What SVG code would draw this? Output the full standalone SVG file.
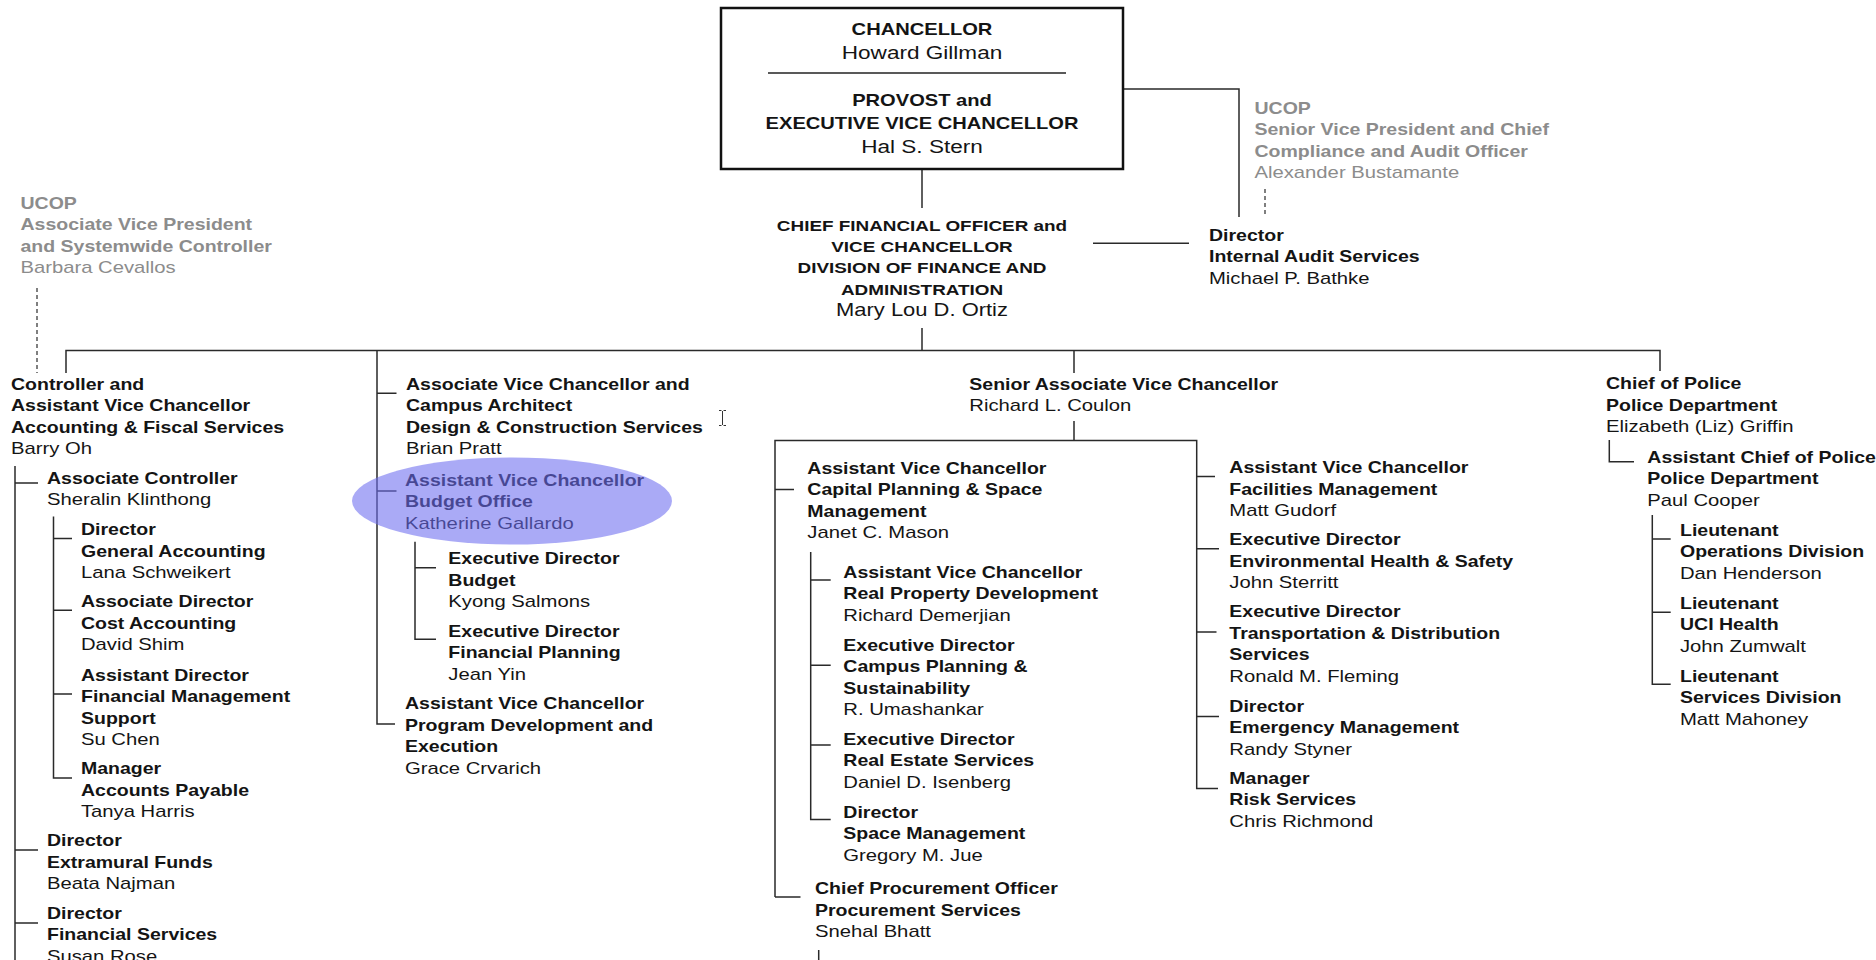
<svg xmlns="http://www.w3.org/2000/svg" width="1876" height="960" viewBox="0 0 1876 960">
<style>
.t{font-family:"Liberation Sans",Arial,sans-serif;fill:#141414}
.b{font-weight:700;font-size:16px}
.r{font-weight:400;font-size:16.6px}
.gy{fill:#8c8c8c}
.c{text-anchor:middle}
.ln{fill:none;stroke:#2a2a2a;stroke-width:1.5}
.ds{fill:none;stroke:#555;stroke-width:1.5;stroke-dasharray:4 3}
</style>
<rect width="1876" height="960" fill="#fff"/>

<g id="connectors">
  <path class="ln" d="M922,170 V208"/>
  <path class="ln" d="M1123,89 H1239 V217"/>
  <path class="ds" d="M1265,189 V217"/>
  <path class="ln" d="M1093,243.3 H1189"/>
  <path class="ln" d="M922,328 V350.5"/>
  <path class="ln" d="M66,373 V350.5 H1660 V371"/>
  <path class="ds" d="M37,288 V373"/>
  <path class="ln" d="M1074,350.5 V373"/>
  <!-- column 1 -->
  <path class="ln" d="M15,466 V960"/>
  <path class="ln" d="M15,483 H38 M15,850 H38 M15,923 H38"/>
  <path class="ln" d="M53.5,516.5 V778 H72 M53.5,538.5 H72 M53.5,610.3 H72 M53.5,694 H72"/>
  <!-- column 2 -->
  <path class="ln" d="M377,350.5 V724 H395 M377,393.3 H396.5 M377,491 H396.5"/>
  <path class="ln" d="M415,541.7 V639.3 H436 M415,567.7 H436"/>
  <!-- column 3 -->
  <path class="ln" d="M1074,421 V440.6 M775,897 V440.6 H1196.7 V788.5 H1218 M775,897 H800.5 M775,489.4 H794"/>
  <path class="ln" d="M1196.7,476.5 H1215 M1196.7,548.8 H1219 M1196.7,632 H1216.5 M1196.7,716.5 H1219"/>
  <path class="ln" d="M810.7,552 V819.5 H830.7 M810.7,580 H830.7 M810.7,665.2 H830.7 M810.7,745 H830.7"/>
  <path class="ln" d="M818.7,950 V960"/>
  <!-- column 4 -->
  <path class="ln" d="M1609.3,440 V461.7 H1634"/>
  <path class="ln" d="M1652.3,515 V684.3 H1670.7 M1652.3,539 H1670.7 M1652.3,612.3 H1670.7"/>
</g>

<g id="chancellor">
  <rect x="721" y="8" width="402" height="161" fill="none" stroke="#111" stroke-width="2.5"/>
  <path d="M768,73 H1066" stroke="#222" stroke-width="1.3"/>
  <g class="t c" transform="translate(922,0) scale(1.22,1)">
    <text class="b" y="35.5" style="font-size:16.5px">CHANCELLOR</text>
    <text class="r" y="59" style="font-size:18.5px">Howard Gillman</text>
    <text class="b" y="106" style="font-size:16.5px">PROVOST and</text>
    <text class="b" y="129.5" style="font-size:16.5px">EXECUTIVE VICE CHANCELLOR</text>
    <text class="r" y="153" style="font-size:18.5px">Hal S. Stern</text>
  </g>
</g>

<g id="ucop-left" class="t" transform="translate(20.5,0) scale(1.22,1)">
  <text class="b gy" y="209">UCOP</text>
  <text class="b gy" y="230.5">Associate Vice President</text>
  <text class="b gy" y="252">and Systemwide Controller</text>
  <text class="r gy" y="273.5">Barbara Cevallos</text>
</g>

<g id="ucop-right" class="t" transform="translate(1254.5,0) scale(1.22,1)">
  <text class="b gy" y="114">UCOP</text>
  <text class="b gy" y="135.5">Senior Vice President and Chief</text>
  <text class="b gy" y="157">Compliance and Audit Officer</text>
  <text class="r gy" y="178.5">Alexander Bustamante</text>
</g>

<g id="cfo" class="t c" transform="translate(922,0) scale(1.22,1)">
  <text class="b" y="231" style="font-size:15.5px">CHIEF FINANCIAL OFFICER and</text>
  <text class="b" y="252.5" style="font-size:15.5px">VICE CHANCELLOR</text>
  <text class="b" y="273.5" style="font-size:15.5px">DIVISION OF FINANCE AND</text>
  <text class="b" y="295" style="font-size:15.5px">ADMINISTRATION</text>
  <text class="r" y="316" style="font-size:18px">Mary Lou D. Ortiz</text>
</g>

<g id="director-audit" class="t" transform="translate(1209,0) scale(1.22,1)">
  <text class="b" y="241">Director</text>
  <text class="b" y="262.5">Internal Audit Services</text>
  <text class="r" y="284">Michael P. Bathke</text>
</g>

<g id="controller" class="t" transform="translate(11,0) scale(1.22,1)">
  <text class="b" y="390">Controller and</text>
  <text class="b" y="411.5">Assistant Vice Chancellor</text>
  <text class="b" y="433">Accounting &amp; Fiscal Services</text>
  <text class="r" y="454.5">Barry Oh</text>
</g>
<g id="assoc-controller" class="t" transform="translate(47,0) scale(1.22,1)">
  <text class="b" y="484">Associate Controller</text>
  <text class="r" y="505.5">Sheralin Klinthong</text>
</g>
<g id="dir-general-accounting" class="t" transform="translate(81,0) scale(1.22,1)">
  <text class="b" y="535.5">Director</text>
  <text class="b" y="557">General Accounting</text>
  <text class="r" y="578.5">Lana Schweikert</text>
</g>
<g id="assoc-dir-cost" class="t" transform="translate(81,0) scale(1.22,1)">
  <text class="b" y="607.5">Associate Director</text>
  <text class="b" y="629">Cost Accounting</text>
  <text class="r" y="650.5">David Shim</text>
</g>
<g id="asst-dir-fms" class="t" transform="translate(81,0) scale(1.22,1)">
  <text class="b" y="681">Assistant Director</text>
  <text class="b" y="702.5">Financial Management</text>
  <text class="b" y="724">Support</text>
  <text class="r" y="745.5">Su Chen</text>
</g>
<g id="mgr-ap" class="t" transform="translate(81,0) scale(1.22,1)">
  <text class="b" y="774.5">Manager</text>
  <text class="b" y="796">Accounts Payable</text>
  <text class="r" y="817.5">Tanya Harris</text>
</g>
<g id="dir-extramural" class="t" transform="translate(47,0) scale(1.22,1)">
  <text class="b" y="846.5">Director</text>
  <text class="b" y="868">Extramural Funds</text>
  <text class="r" y="889.5">Beata Najman</text>
</g>
<g id="dir-financial-services" class="t" transform="translate(47,0) scale(1.22,1)">
  <text class="b" y="919">Director</text>
  <text class="b" y="940.5">Financial Services</text>
  <text class="r" y="962">Susan Rose</text>
</g>

<g id="avc-design" class="t" transform="translate(406,0) scale(1.22,1)">
  <text class="b" y="390">Associate Vice Chancellor and</text>
  <text class="b" y="411.5">Campus Architect</text>
  <text class="b" y="433">Design &amp; Construction Services</text>
  <text class="r" y="454.5">Brian Pratt</text>
</g>
<g id="avc-budget" class="t" transform="translate(405,0) scale(1.22,1)">
  <text class="b" y="486">Assistant Vice Chancellor</text>
  <text class="b" y="507.5">Budget Office</text>
  <text class="r" y="529">Katherine Gallardo</text>
</g>
<g id="ed-budget" class="t" transform="translate(448.3,0) scale(1.22,1)">
  <text class="b" y="564.3">Executive Director</text>
  <text class="b" y="585.8">Budget</text>
  <text class="r" y="607.3">Kyong Salmons</text>
</g>
<g id="ed-financial-planning" class="t" transform="translate(448.3,0) scale(1.22,1)">
  <text class="b" y="636.7">Executive Director</text>
  <text class="b" y="658.2">Financial Planning</text>
  <text class="r" y="679.7">Jean Yin</text>
</g>
<g id="avc-program" class="t" transform="translate(405,0) scale(1.22,1)">
  <text class="b" y="709.3">Assistant Vice Chancellor</text>
  <text class="b" y="730.8">Program Development and</text>
  <text class="b" y="752.3">Execution</text>
  <text class="r" y="773.8">Grace Crvarich</text>
</g>
<ellipse id="highlight" cx="512" cy="501" rx="160" ry="43.5" fill="#6c6cf0" fill-opacity="0.58"/>

<g id="sr-avc" class="t" transform="translate(969.3,0) scale(1.22,1)">
  <text class="b" y="390">Senior Associate Vice Chancellor</text>
  <text class="r" y="411.5">Richard L. Coulon</text>
</g>
<g id="avc-capital-planning" class="t" transform="translate(807.3,0) scale(1.22,1)">
  <text class="b" y="474">Assistant Vice Chancellor</text>
  <text class="b" y="495.5">Capital Planning &amp; Space</text>
  <text class="b" y="517">Management</text>
  <text class="r" y="538.5">Janet C. Mason</text>
</g>
<g id="avc-real-property" class="t" transform="translate(843.3,0) scale(1.22,1)">
  <text class="b" y="578">Assistant Vice Chancellor</text>
  <text class="b" y="599.5">Real Property Development</text>
  <text class="r" y="621">Richard Demerjian</text>
</g>
<g id="ed-campus-planning" class="t" transform="translate(843.3,0) scale(1.22,1)">
  <text class="b" y="650.6">Executive Director</text>
  <text class="b" y="672.1">Campus Planning &amp;</text>
  <text class="b" y="693.6">Sustainability</text>
  <text class="r" y="715.1">R. Umashankar</text>
</g>
<g id="ed-real-estate" class="t" transform="translate(843.3,0) scale(1.22,1)">
  <text class="b" y="745">Executive Director</text>
  <text class="b" y="766.5">Real Estate Services</text>
  <text class="r" y="788">Daniel D. Isenberg</text>
</g>
<g id="dir-space" class="t" transform="translate(843.3,0) scale(1.22,1)">
  <text class="b" y="817.6">Director</text>
  <text class="b" y="839.1">Space Management</text>
  <text class="r" y="860.6">Gregory M. Jue</text>
</g>
<g id="cpo" class="t" transform="translate(815,0) scale(1.22,1)">
  <text class="b" y="894.5">Chief Procurement Officer</text>
  <text class="b" y="916">Procurement Services</text>
  <text class="r" y="937.5">Snehal Bhatt</text>
</g>

<g id="avc-facilities" class="t" transform="translate(1229.3,0) scale(1.22,1)">
  <text class="b" y="473.3">Assistant Vice Chancellor</text>
  <text class="b" y="494.8">Facilities Management</text>
  <text class="r" y="516.3">Matt Gudorf</text>
</g>
<g id="ed-ehs" class="t" transform="translate(1229.3,0) scale(1.22,1)">
  <text class="b" y="545.3">Executive Director</text>
  <text class="b" y="566.8">Environmental Health &amp; Safety</text>
  <text class="r" y="588.3">John Sterritt</text>
</g>
<g id="ed-transportation" class="t" transform="translate(1229.3,0) scale(1.22,1)">
  <text class="b" y="617.3">Executive Director</text>
  <text class="b" y="638.8">Transportation &amp; Distribution</text>
  <text class="b" y="660.3">Services</text>
  <text class="r" y="681.8">Ronald M. Fleming</text>
</g>
<g id="dir-emergency" class="t" transform="translate(1229.3,0) scale(1.22,1)">
  <text class="b" y="711.7">Director</text>
  <text class="b" y="733.2">Emergency Management</text>
  <text class="r" y="754.7">Randy Styner</text>
</g>
<g id="mgr-risk" class="t" transform="translate(1229.3,0) scale(1.22,1)">
  <text class="b" y="783.7">Manager</text>
  <text class="b" y="805.2">Risk Services</text>
  <text class="r" y="826.7">Chris Richmond</text>
</g>

<g id="police-chief" class="t" transform="translate(1606,0) scale(1.22,1)">
  <text class="b" y="389.3">Chief of Police</text>
  <text class="b" y="410.8">Police Department</text>
  <text class="r" y="432.3">Elizabeth (Liz) Griffin</text>
</g>
<g id="asst-police-chief" class="t" transform="translate(1647.3,0) scale(1.22,1)">
  <text class="b" y="462.7">Assistant Chief of Police</text>
  <text class="b" y="484.2">Police Department</text>
  <text class="r" y="505.7">Paul Cooper</text>
</g>
<g id="lt-operations" class="t" transform="translate(1680,0) scale(1.22,1)">
  <text class="b" y="536">Lieutenant</text>
  <text class="b" y="557.5">Operations Division</text>
  <text class="r" y="579">Dan Henderson</text>
</g>
<g id="lt-uci-health" class="t" transform="translate(1680,0) scale(1.22,1)">
  <text class="b" y="609">Lieutenant</text>
  <text class="b" y="630.5">UCI Health</text>
  <text class="r" y="652">John Zumwalt</text>
</g>
<g id="lt-services" class="t" transform="translate(1680,0) scale(1.22,1)">
  <text class="b" y="681.7">Lieutenant</text>
  <text class="b" y="703.2">Services Division</text>
  <text class="r" y="724.7">Matt Mahoney</text>
</g>

<path id="cursor" d="M719,410.5 H721.5 M723.5,410.5 H726 M722.5,411 V425 M719,425.5 H721.5 M723.5,425.5 H726" fill="none" stroke="#333" stroke-width="1"/>
</svg>
